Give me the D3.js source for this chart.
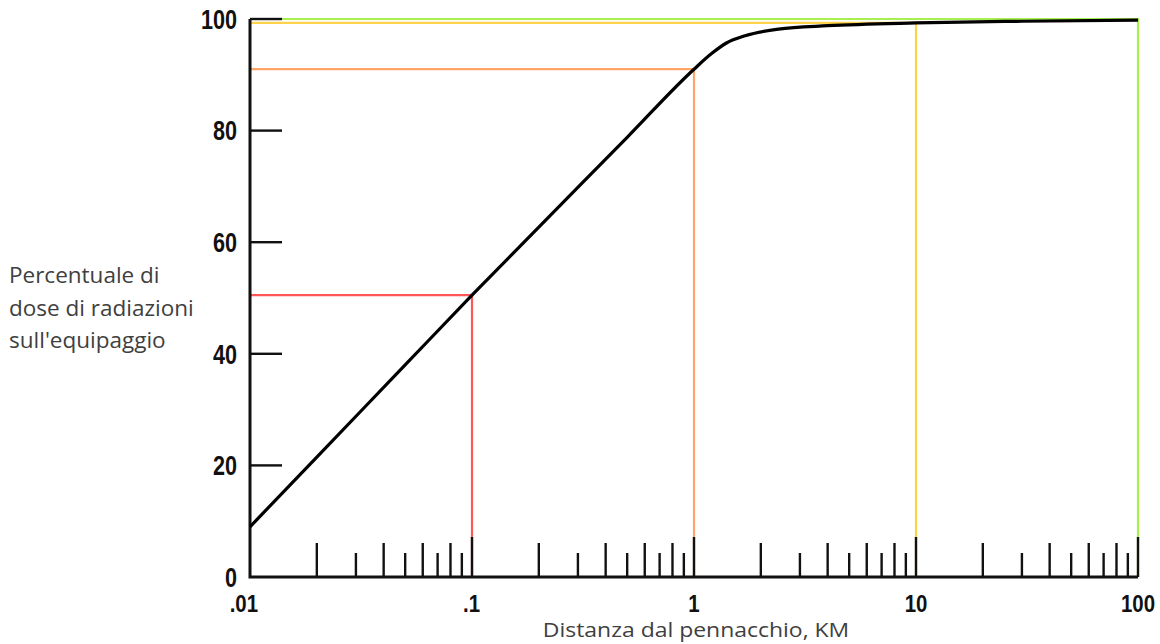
<!DOCTYPE html>
<html><head><meta charset="utf-8">
<script src="https://cdn.jsdelivr.net/npm/d3@7/dist/d3.min.js"></script>
<style>body{margin:0;background:#fff}svg{display:block}</style>
</head><body><svg id="c" width="1160" height="644"></svg>
<script>
// distance (km) and dose percentage of the curve
const curveX = [0.01, 0.02, 0.05, 0.1, 0.2, 0.5, 1, 1.2, 1.4, 1.7, 2.4, 4, 10, 30, 100];
const curveY = [9, 21.5, 38, 50.5, 62.7, 78.8, 91, 93.8, 95.7, 97, 98.2, 98.8, 99.3, 99.6, 99.8];
// reference guide lines
const refX = [0.1, 1, 10, 100];
const refY = [50.5, 91, 99.3, 100];
const refColors = ["#ff5656", "#ffa565", "#ffd24c", "#a8f050"];
// axis ticks
const yTicks = [20, 40, 60, 80, 100];
const yTickLabels = ["0", "20", "40", "60", "80", "100"];
const yLabelValues = [0, 20, 40, 60, 80, 100];
const xMajor = [0.01, 0.1, 1, 10, 100];
const xTickLabels = [".01", ".1", "1", "10", "100"];
const xTallMinor = [0.02,0.04,0.06,0.08, 0.2,0.4,0.6,0.8, 2,4,6,8, 20,40,60,80];
const xShortMinor = [0.03,0.05,0.07,0.09, 0.3,0.5,0.7,0.9, 3,5,7,9, 30,50,70,90];
const yTitle = ["Percentuale di", "dose di radiazioni", "sull'equipaggio"];
const xTitle = "Distanza dal pennacchio, KM";

const svg = d3.select("#c");
const x = d3.scaleLog().domain([0.01, 100]).range([250, 1138]);
const y = d3.scaleLinear().domain([0, 100]).range([577, 19]);
const base = y(0);

// guide lines
const g = svg.append("g");
refX.forEach((v, i) => {
  g.append("path")
    .attr("d", `M${x(0.01)},${y(refY[i])}H${x(v)}V${base}`)
    .attr("fill", "none").attr("stroke", refColors[i]).attr("stroke-width", 2.2);
});

// ticks
const tickG = svg.append("g").attr("stroke", "#111").attr("stroke-width", 2.4);
xTallMinor.forEach(v => tickG.append("line").attr("x1", x(v)).attr("x2", x(v)).attr("y1", base).attr("y2", base - 34));
xShortMinor.forEach(v => tickG.append("line").attr("x1", x(v)).attr("x2", x(v)).attr("y1", base).attr("y2", base - 24));
xMajor.slice(1).forEach(v => tickG.append("line").attr("x1", x(v)).attr("x2", x(v)).attr("y1", base).attr("y2", base - 40));
yTicks.forEach(v => tickG.append("line").attr("x1", x(0.01)).attr("x2", x(0.01) + 32).attr("y1", y(v)).attr("y2", y(v)));

// axes lines
svg.append("path").attr("d", `M${x(0.01)},${y(100)}V${base}H${x(100)}`)
  .attr("fill", "none").attr("stroke", "#111").attr("stroke-width", 3);

// curve
const line = d3.line().x((d, i) => x(curveX[i])).y(d => y(d)).curve(d3.curveMonotoneX);
svg.append("path").attr("d", line(curveY)).attr("fill", "none")
  .attr("stroke", "#000").attr("stroke-width", 3.2).attr("stroke-linejoin", "round");

// y labels (condensed)
svg.append("g").selectAll("text").data(yLabelValues).join("text")
  .attr("transform", d => `translate(237,${y(d)}) scale(0.8,1)`)
  .attr("dy", "0.36em")
  .attr("text-anchor", "end")
  .attr("font-family", "'Liberation Sans', sans-serif")
  .attr("font-weight", "bold").attr("font-size", 27).attr("fill", "#111")
  .text((d, i) => yTickLabels[i]);

// x labels (condensed)
svg.append("g").selectAll("text").data(xMajor).join("text")
  .attr("transform", (d, i) => `translate(${xTickLabels[i].startsWith(".") ? x(d) + 8 : x(d)},612) scale(0.85,1)`)
  .attr("text-anchor", (d, i) => xTickLabels[i].startsWith(".") ? "end" : "middle")
  .attr("font-family", "'Liberation Sans', sans-serif")
  .attr("font-weight", "bold").attr("font-size", 24).attr("fill", "#111")
  .text((d, i) => xTickLabels[i]);

// titles
svg.append("g").selectAll("text").data(yTitle).join("text")
  .attr("x", 9).attr("y", (d, i) => 283 + i * 32.5)
  .attr("font-family", "'Open Sans', sans-serif").attr("font-size", 22.5).attr("fill", "#404040")
  .text(d => d);
svg.append("text").attr("transform", "translate(696,637) scale(1.12,1)").attr("text-anchor", "middle")
  .attr("font-family", "'Open Sans', sans-serif").attr("font-size", 20.5).attr("fill", "#404040")
  .text(xTitle);
</script></body></html>
